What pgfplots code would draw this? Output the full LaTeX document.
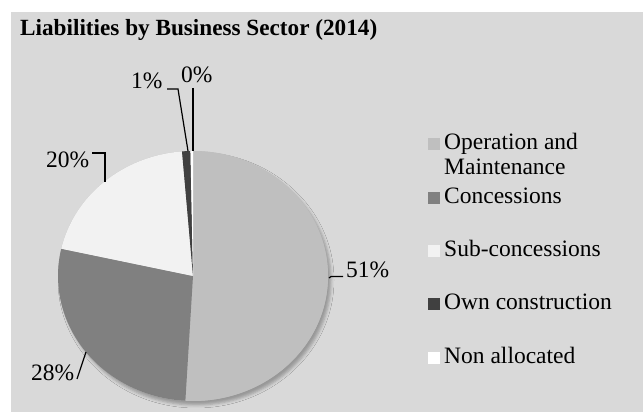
\documentclass[border=0pt]{standalone}
\usepackage{pgfplots}
\pgfplotsset{compat=1.18}
\usepackage{pgfplotstable}
\usetikzlibrary{shadows.blur}
\usepackage{fontspec}
\setmainfont{Liberation Serif}
\definecolor{bgc}{HTML}{D9D9D9}
\definecolor{omc}{HTML}{BFBFBF}
\definecolor{conc}{HTML}{808080}
\definecolor{subc}{HTML}{F2F2F2}
\definecolor{ownc}{HTML}{404040}
\definecolor{nonc}{HTML}{FFFFFF}
\pgfkeys{/pgf/number format/assume math mode=true}
\tikzset{lab/.style={anchor=base west, inner sep=0pt, font=\fontsize{23.5bp}{25bp}\selectfont}}
\pgfplotstableread{
value
50.9
27.6
20.2
1.0
0.3
}\piedata
\begin{document}
\begin{tikzpicture}
\pgfplotstablegetelem{0}{value}\of\piedata \edef\vA{\pgfplotsretval}
\pgfplotstablegetelem{1}{value}\of\piedata \edef\vB{\pgfplotsretval}
\pgfplotstablegetelem{2}{value}\of\piedata \edef\vC{\pgfplotsretval}
\pgfplotstablegetelem{3}{value}\of\piedata \edef\vD{\pgfplotsretval}
\pgfplotstablegetelem{4}{value}\of\piedata \edef\vE{\pgfplotsretval}
\pgfmathsetmacro\aA{90}
\pgfmathsetmacro\aB{\aA-3.6*\vA}
\pgfmathsetmacro\aC{\aB-3.6*\vB}
\pgfmathsetmacro\aD{\aC-3.6*\vC}
\pgfmathsetmacro\aE{\aD-3.6*\vD}
\pgfmathsetmacro\aF{\aE-3.6*\vE}
\begin{axis}[
  scale only axis, width=643bp, height=412bp,
  xmin=0, xmax=643, ymin=0, ymax=412,
  hide axis, clip=false,
]
\fill[white] (axis cs:0,0) rectangle (axis cs:643,412);
\fill[bgc] (axis cs:11,0) rectangle (axis cs:643,400);
\node[anchor=base west, inner sep=0pt, font=\fontsize{23.2bp}{25bp}\selectfont\bfseries] at (axis cs:20,376) {Liabilities by Business Sector (2014)};
% shadow
\path[fill=omc, blur shadow={shadow xshift=3bp, shadow yshift=-4bp, shadow blur radius=3bp, shadow opacity=30}] (axis cs:193,136) ellipse [x radius=135bp, y radius=125bp];
% slices
\fill[omc] (axis cs:193,136) -- ++(\aA:135bp and 125bp) arc[start angle=\aA, end angle=\aB, x radius=135bp, y radius=125bp] -- cycle;
\fill[conc] (axis cs:193,136) -- ++(\aB:135bp and 125bp) arc[start angle=\aB, end angle=\aC, x radius=135bp, y radius=125bp] -- cycle;
\fill[subc] (axis cs:193,136) -- ++(\aC:135bp and 125bp) arc[start angle=\aC, end angle=\aD, x radius=135bp, y radius=125bp] -- cycle;
\fill[ownc] (axis cs:193,136) -- ++(\aD:135bp and 125bp) arc[start angle=\aD, end angle=\aE, x radius=135bp, y radius=125bp] -- cycle;
\fill[nonc] (axis cs:193,136) -- ++(\aE:135bp and 125bp) arc[start angle=\aE, end angle=\aF, x radius=135bp, y radius=125bp] -- cycle;
% leader lines
\draw[black, line width=1.2bp] (axis cs:329,134) -- (axis cs:331,135.5) -- (axis cs:343,135.5);
\draw[black, line width=1.2bp] (axis cs:86,60) -- (axis cs:77,33);
\draw[black, line width=1.2bp] (axis cs:92,259) -- (axis cs:105,259) -- (axis cs:105,230);
\draw[black, line width=1.2bp] (axis cs:167,323) -- (axis cs:178,323) -- (axis cs:188,261);
\draw[black, line width=1.2bp] (axis cs:193,324) -- (axis cs:193,261);
% labels
\node[lab] at (axis cs:346,134) {\pgfmathprintnumber[fixed,precision=0]{\vA}\%};
\node[lab] at (axis cs:31,31) {\pgfmathprintnumber[fixed,precision=0]{\vB}\%};
\node[lab] at (axis cs:46,244) {\pgfmathprintnumber[fixed,precision=0]{\vC}\%};
\node[lab] at (axis cs:131,323) {\pgfmathprintnumber[fixed,precision=0]{\vD}\%};
\node[lab] at (axis cs:181,329) {\pgfmathprintnumber[fixed,precision=0]{\vE}\%};
% legend
\fill[omc] (axis cs:428,262) rectangle (axis cs:440,274);
\node[lab] at (axis cs:444,262) {Operation and};
\node[lab] at (axis cs:444,237) {Maintenance};
\fill[conc] (axis cs:428,208) rectangle (axis cs:440,220);
\node[lab] at (axis cs:444,208) {Concessions};
\fill[subc] (axis cs:428,155) rectangle (axis cs:440,167);
\node[lab] at (axis cs:444,155) {Sub-concessions};
\fill[ownc] (axis cs:428,102) rectangle (axis cs:440,114);
\node[lab] at (axis cs:444,102) {Own construction};
\fill[nonc] (axis cs:428,48) rectangle (axis cs:440,60);
\node[lab] at (axis cs:444,48) {Non allocated};
\end{axis}
\end{tikzpicture}
\end{document}
